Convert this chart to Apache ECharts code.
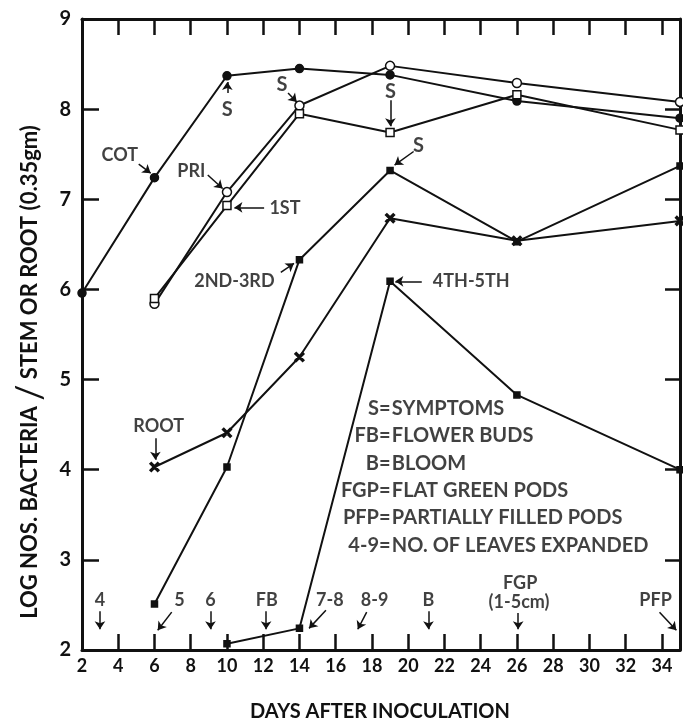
<!DOCTYPE html>
<html>
<head>
<meta charset="utf-8">
<script src="https://cdn.jsdelivr.net/npm/echarts@6/dist/echarts.min.js"></script>
<style>
  html, body { margin: 0; padding: 0; background: #fff; }
  #main { width: 683px; height: 726px; }
</style>
</head>
<body>
<div id="main"></div>
<script>
// days after inoculation
const daysCot = [2, 6, 10, 14, 19, 26, 35]
const days = [6, 10, 14, 19, 26, 35]
const days45 = [10, 14, 19, 26, 35]

// log nos. bacteria
const cot = [5.96, 7.24, 8.37, 8.45, 8.38, 8.09, 7.90]
const pri = [5.84, 7.08, 8.04, 8.48, 8.29, 8.08]
const first = [5.90, 6.93, 7.95, 7.74, 8.16, 7.77]
const second3rd = [2.51, 4.03, 6.33, 7.32, 6.53, 7.37]
const root = [4.03, 4.41, 5.25, 6.79, 6.54, 6.76]
const fourth5th = [2.07, 2.24, 6.09, 4.83, 4.00]

const xTicks = [2, 4, 6, 8, 10, 12, 14, 16, 18, 20, 22, 24, 26, 28, 30, 32, 34]

// labels placed on the chart (data coords)
const notes = [
  ['COT', 4.09, 7.49], ['PRI', 8.03, 7.31], ['1ST', 13.2, 6.90], ['2ND-3RD', 10.41, 6.09],
  ['4TH-5TH', 23.48, 6.09], ['ROOT', 6.23, 4.48],
  ['4', 2.99, 2.555], ['5', 7.38, 2.555], ['6', 9.09, 2.555], ['FB', 12.2, 2.555],
  ['7-8', 15.68, 2.555], ['8-9', 18.15, 2.555], ['B', 21.12, 2.555],
  ['FGP', 26.18, 2.74], ['(1-5cm)', 26.12, 2.53], ['PFP', 33.65, 2.555]
]
const symptoms = [[10.02, 8.0], [13.03, 8.27], [19.02, 8.19], [20.57, 7.60]]
// arrows: x1, y1 -> x2, y2
const arrows = [
  [5.13, 7.39, 5.79, 7.29], [10.02, 8.18, 10.02, 8.30], [13.37, 8.18, 13.85, 8.08],
  [19.02, 8.10, 19.02, 7.81], [20.3, 7.53, 19.25, 7.38], [8.94, 7.27, 9.76, 7.12],
  [12.05, 6.91, 10.41, 6.91], [12.97, 6.19, 13.70, 6.29], [20.75, 6.09, 19.29, 6.09],
  [6.05, 4.35, 6.05, 4.11],
  [2.99, 2.43, 2.99, 2.23], [6.95, 2.42, 6.18, 2.22], [9.09, 2.43, 9.09, 2.23],
  [12.16, 2.43, 12.16, 2.23], [15.46, 2.44, 14.53, 2.24], [17.71, 2.42, 17.22, 2.23],
  [21.12, 2.43, 21.12, 2.23], [26.07, 2.41, 26.07, 2.23], [33.87, 2.42, 34.8, 2.22]
]
// key text
const keyY = [4.68, 4.38, 4.07, 3.77, 3.47, 3.16]
const keyCodes = ['S=', 'FB=', 'B=', 'FGP=', 'PFP=', '4-9=']
const keyText = ['SYMPTOMS', 'FLOWER BUDS', 'BLOOM', 'FLAT GREEN PODS', 'PARTIALLY FILLED PODS', 'NO. OF LEAVES EXPANDED']

const FONT = 'Lato'
const pair = (xs, ys) => xs.map((x, i) => [x, ys[i]])
const crossPath = 'path://M0,1.5L1.5,0L10,8.5L8.5,10Z M8.5,0L10,1.5L1.5,10L0,8.5Z'

function lineSeries(name, xs, ys, symbol, size, fill) {
  return {
    name: name,
    type: 'line',
    data: pair(xs, ys),
    symbol: symbol,
    symbolSize: size,
    showAllSymbol: true,
    lineStyle: { color: '#111', width: 2 },
    itemStyle: { color: fill, borderColor: '#111', borderWidth: 1.5 },
    z: 3
  }
}

// frame axes: line + labels
function axis(pos, min, max, step, label) {
  return {
    type: 'value', position: pos, min: min, max: max, interval: step,
    axisLine: { show: true, lineStyle: { color: '#111', width: 3 } },
    axisTick: { show: false },
    splitLine: { show: false },
    axisLabel: label || { show: false }
  }
}
// plain axes that only carry the inward ticks
function tickAxis(pos, min, max, step, tickLen) {
  return {
    type: 'value', position: pos, min: min, max: max, interval: step,
    axisLine: { show: false },
    axisTick: { show: true, inside: true, length: tickLen, lineStyle: { color: '#111', width: 2.5 } },
    splitLine: { show: false },
    axisLabel: { show: false }
  }
}

const chart = echarts.init(document.getElementById('main'))

const option = {
  animation: false,
  backgroundColor: '#fff',
  textStyle: { fontFamily: FONT },
  grid: { left: 82, right: 2, top: 19, bottom: 76 },
  xAxis: [
    axis('bottom', 2, 35, 2, {
      color: '#111', fontSize: 18, fontWeight: 'bold', fontFamily: FONT, margin: 7,
      formatter: v => xTicks.indexOf(v) >= 0 ? String(v) : ''
    }),
    axis('top', 2, 35, 2),
    tickAxis('bottom', 2, 35, 2, 16),
    tickAxis('top', 2, 35, 2, 16)
  ],
  yAxis: [
    axis('left', 2, 9, 1, {
      color: '#111', fontSize: 20, fontWeight: 'bold', fontFamily: FONT, margin: 11
    }),
    axis('right', 2, 9, 1),
    tickAxis('left', 2, 9, 1, 17),
    tickAxis('right', 2, 9, 1, 15)
  ],
  graphic: [
    {
      type: 'text', x: 30, y: 372, rotation: Math.PI / 2,
      style: {
        text: '{a|LOG NOS. BACTERIA }{b|/}{a| STEM OR ROOT (0.35gm)}',
        align: 'center', verticalAlign: 'middle',
        rich: {
          a: { fontFamily: FONT, fontSize: 22, fontWeight: 'bold', fill: '#111' },
          b: { fontFamily: FONT, fontSize: 36, fontWeight: 'normal', fill: '#111' }
        }
      }
    },
    {
      type: 'text', x: 380, y: 712,
      style: {
        text: 'DAYS AFTER INOCULATION', align: 'center', verticalAlign: 'middle',
        fontFamily: FONT, fontSize: 20, fontWeight: 'bold', fill: '#111'
      }
    }
  ],
  series: [
    lineSeries('COT', daysCot, cot, 'circle', 8, '#111'),
    lineSeries('PRI', days, pri, 'circle', 9, '#fff'),
    lineSeries('1ST', days, first, 'rect', 8, '#fff'),
    lineSeries('2ND-3RD', days, second3rd, 'rect', 6, '#111'),
    lineSeries('ROOT', days, root, crossPath, 9, '#111'),
    lineSeries('4TH-5TH', days45, fourth5th, 'rect', 6, '#111'),
    {
      name: 'notes',
      type: 'scatter',
      symbolSize: 0,
      silent: true,
      data: notes.map(n => ({ name: n[0], value: [n[1], n[2]] }))
        .concat(symptoms.map(s => ({ name: 'S', value: s, label: { fontSize: 20 } }))),
      label: {
        show: true, position: 'inside', formatter: '{b}',
        color: '#111', fontFamily: FONT, fontSize: 18, fontWeight: 'bold'
      },
      markLine: {
        silent: true,
        animation: false,
        symbol: ['none', 'arrow'],
        symbolSize: 8,
        label: { show: false },
        lineStyle: { color: '#111', width: 1.5, type: 'solid' },
        data: arrows.map(a => [{ coord: [a[0], a[1]] }, { coord: [a[2], a[3]] }])
      }
    },
    {
      name: 'key',
      type: 'scatter',
      symbolSize: 0,
      silent: true,
      data: keyY.map((y, i) => ({ name: keyCodes[i], value: [19.03, y], label: { align: 'right' } }))
        .concat(keyY.map((y, i) => ({ name: keyText[i], value: [19.1, y], label: { align: 'left' } }))),
      label: {
        show: true, position: 'inside', formatter: '{b}',
        color: '#111', fontFamily: FONT, fontSize: 20, fontWeight: 'bold'
      }
    }
  ]
}

chart.setOption(option)
</script>
</body>
</html>
